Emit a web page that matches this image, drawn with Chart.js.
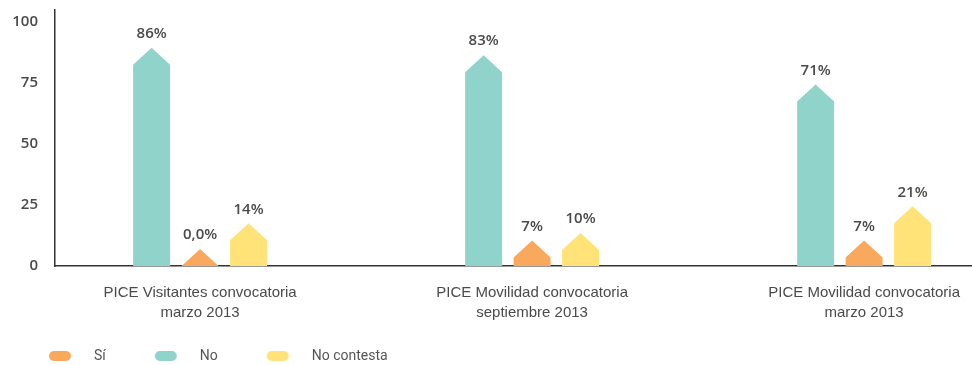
<!DOCTYPE html>
<html>
<head>
<meta charset="utf-8">
<script src="https://cdn.jsdelivr.net/npm/chart.js@4.4.1/dist/chart.umd.min.js"></script>
<style>
  html, body { margin: 0; padding: 0; background: #fff; }
  #wrap { width: 972px; height: 365px; }
</style>
</head>
<body>
<div id="wrap"><canvas id="myChart" width="972" height="365"></canvas></div>
<script>
// data
const categories = [
  ['PICE Visitantes convocatoria', 'marzo 2013'],
  ['PICE Movilidad convocatoria', 'septiembre 2013'],
  ['PICE Movilidad convocatoria', 'marzo 2013']
];
const noValues = [86, 83, 71];
const siValues = [0, 7, 7];
const noContestaValues = [14, 10, 21];
const yTicks = [0, 25, 50, 75, 100];
const legendOrder = ['Sí', 'No', 'No contesta'];

const textColor = '#4a4a4a';
const numFont = '600 15px "Open Sans", sans-serif';

function toPoints(values) {
    return values.map((v, i) => ({ x: i, y: v }));
}

// pill marker for the legend, with blank space around it
function pill(color) {
    const c = document.createElement('canvas');
    c.width = 75;
    c.height = 10;
    const g = c.getContext('2d');
    g.fillStyle = color;
    g.beginPath();
    g.roundRect(37, 0, 22, 10, 5);
    g.fill();
    return c;
}

// bars with a pointed top + value label above the tip
const arrowBars = {
    id: 'arrowBars',
    beforeDatasetsDraw(chart) {
        const ctx = chart.ctx;
        ctx.save();
        ctx.font = numFont;
        ctx.textAlign = 'center';
        ctx.textBaseline = 'middle';
        chart.data.datasets.forEach((ds, i) => {
            const meta = chart.getDatasetMeta(i);
            meta.data.forEach((bar, j) => {
                const half = bar.width / 2;
                const peak = Math.min(bar.y - 8.5, bar.base - 17);
                const shoulder = peak + 17;
                ctx.beginPath();
                ctx.moveTo(bar.x - half, bar.base);
                ctx.lineTo(bar.x - half, shoulder);
                ctx.lineTo(bar.x, peak);
                ctx.lineTo(bar.x + half, shoulder);
                ctx.lineTo(bar.x + half, bar.base);
                ctx.closePath();
                ctx.fillStyle = ds.backgroundColor;
                ctx.fill();
                const v = ds.data[j].y;
                ctx.fillStyle = textColor;
                ctx.fillText(v === 0 ? '0,0%' : v + '%', bar.x, peak - 14);
            });
        });
        ctx.restore();
        return false;
    }
};

const ctx = document.getElementById('myChart').getContext('2d');
new Chart(ctx, {
    type: 'bar',
    data: {
        datasets: [
            { label: 'No', data: toPoints(noValues), backgroundColor: '#8fd3ca', pointStyle: pill('#8fd3ca') },
            { label: 'Sí', data: toPoints(siValues), backgroundColor: '#f9a95e', pointStyle: pill('#f9a95e') },
            { label: 'No contesta', data: toPoints(noContestaValues), backgroundColor: '#ffe278', pointStyle: pill('#ffe278') }
        ]
    },
    options: {
        responsive: false,
        animation: false,
        categoryPercentage: 0.438,
        barPercentage: 0.763,
        layout: { padding: { top: 10, left: 0, right: 0, bottom: 0 } },
        scales: {
            x: {
                type: 'linear',
                offset: false,
                min: -0.437,
                max: 2.325,
                grid: { display: false, drawTicks: false },
                border: { display: true, color: '#333', width: 1.5 },
                afterBuildTicks: (scale) => { scale.ticks = categories.map((c, i) => ({ value: i })); },
                afterFit: (scale) => {
                    scale.height = 71;
                    scale.paddingLeft = 0;
                    scale.paddingRight = 0;
                },
                ticks: {
                    autoSkip: false,
                    maxRotation: 0,
                    padding: 17,
                    color: textColor,
                    font: { family: '"Liberation Sans", Arial, sans-serif', size: 15, lineHeight: 1.33 },
                    callback: (v) => categories[v]
                }
            },
            y: {
                min: 0,
                max: 105,
                grid: { display: false, drawTicks: false },
                border: { display: true, color: '#333', width: 1.5 },
                afterBuildTicks: (scale) => { scale.ticks = yTicks.map(v => ({ value: v })); },
                afterFit: (scale) => {
                    scale.width = 55;
                    scale.paddingTop = 0;
                    scale.paddingBottom = 0;
                },
                ticks: {
                    padding: 17,
                    color: textColor,
                    font: { family: '"Open Sans", sans-serif', size: 15, weight: '600' }
                }
            }
        },
        plugins: {
            tooltip: { enabled: false },
            legend: {
                position: 'bottom',
                align: 'start',
                maxHeight: 28,
                labels: {
                    usePointStyle: true,
                    pointStyleWidth: 75,
                    padding: 12,
                    color: '#555',
                    font: { family: 'Roboto, sans-serif', size: 14 },
                    sort: (a, b) => legendOrder.indexOf(a.text) - legendOrder.indexOf(b.text)
                }
            }
        }
    },
    plugins: [arrowBars]
});
</script>
</body>
</html>
